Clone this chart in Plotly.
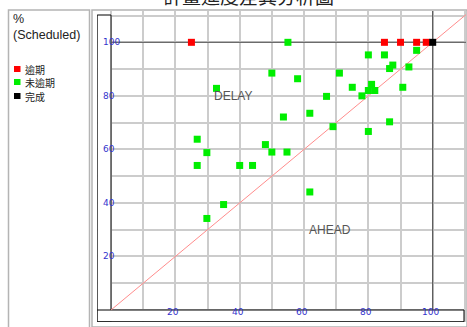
import plotly.graph_objects as go

# ---------------- data ----------------
title_text = "計畫進度差異分析圖"
y_axis_title = ["%", "(Scheduled)"]
legend_labels = ["逾期", "未逾期", "完成"]
legend_colors = ["#ff0000", "#00ee00", "#000000"]

late_x = [25, 85, 90, 95, 98]
late_y = [100, 100, 100, 100, 100]

ontime_x = [55, 80, 85, 95, 50, 71, 58, 87.6, 86.6, 92.6, 32.8, 75, 81, 90.7, 80, 82, 78, 67,
            53.6, 61.8, 69, 80, 86.6, 26.8, 29.8, 26.8, 40, 44, 48, 50, 54.7, 61.8, 35, 29.8]
ontime_y = [100, 95.3, 95.3, 97, 88.5, 88.5, 86.4, 91.5, 90.2, 90.8, 82.8, 83.2, 84.3, 83.2, 82, 82, 80, 79.8,
            72.1, 73.5, 68.5, 66.7, 70.3, 63.8, 58.8, 54, 54, 54, 61.8, 59, 59, 44.1, 39.4, 34.2]

done_x = [100]
done_y = [100]

diag = [0, 115]
tick_vals = [20, 40, 60, 80, 100]
tick_text = ["20", "40", "60", "80", "100"]
region_labels = ["DELAY", "AHEAD"]
region_x = [38, 68]
region_y = [80, 30]

# ---------------- geometry helpers ----------------
W, H = 467, 327
ML, MR, MT, MB = 97, 1, 11, 5
PW, PH = W - ML - MR, H - MT - MB
XR = [-4.35, 110.35]
YR = [-4.48, 111.7]


def px(xp):
    return (xp - ML) / PW


def py(yp):
    return (H - MB - yp) / PH


def dx(xp):
    return XR[0] + (xp - ML) / PW * (XR[1] - XR[0])


def dy(yp):
    return YR[0] + (H - MB - yp) / PH * (YR[1] - YR[0])


fig = go.Figure()

fig.add_trace(go.Scatter(x=diag, y=diag, mode="lines",
                         line=dict(color="#ff8c8c", width=1), hoverinfo="skip"))
fig.add_trace(go.Scatter(x=ontime_x, y=ontime_y, mode="markers", name=legend_labels[1],
                         marker=dict(symbol="square", size=7, color=legend_colors[1], line=dict(width=0))))
fig.add_trace(go.Scatter(x=late_x, y=late_y, mode="markers", name=legend_labels[0],
                         marker=dict(symbol="square", size=7, color=legend_colors[0], line=dict(width=0))))
fig.add_trace(go.Scatter(x=done_x, y=done_y, mode="markers", name=legend_labels[2],
                         marker=dict(symbol="square", size=7, color=legend_colors[2], line=dict(width=0))))

shapes = []
# axis bands (white boxes with black borders)
shapes.append(dict(type="rect", xref="x", yref="y", x0=XR[0] + 0.05, x1=0, y0=YR[0] + 0.1, y1=dy(15),
                   fillcolor="white", line=dict(color="black", width=1), layer="between"))
shapes.append(dict(type="rect", xref="x", yref="y", x0=XR[0] + 0.05, x1=dx(464), y0=YR[0] + 0.1, y1=0,
                   fillcolor="white", line=dict(color="black", width=1), layer="between"))
# dark reference lines at 100
shapes.append(dict(type="line", xref="x", yref="y", x0=0, x1=XR[1], y0=100, y1=100,
                   line=dict(color="#555555", width=1), layer="between"))
shapes.append(dict(type="line", xref="x", yref="y", x0=100, x1=100, y0=0, y1=YR[1],
                   line=dict(color="#444444", width=1), layer="between"))
# panels
shapes.append(dict(type="rect", xref="paper", yref="paper", x0=px(92), x1=px(467), y0=py(327), y1=py(10),
                   line=dict(color="#b4b4b4", width=1.5), fillcolor="rgba(0,0,0,0)"))
shapes.append(dict(type="rect", xref="paper", yref="paper", x0=px(8.5), x1=px(89.5), y0=py(328), y1=py(10),
                   line=dict(color="#b4b4b4", width=1.5), fillcolor="rgba(0,0,0,0)"))

annotations = []
# legend
leg_y = [69, 82, 96]
for lab, col, yy in zip(legend_labels, legend_colors, leg_y):
    shapes.append(dict(type="rect", xref="paper", yref="paper", x0=px(14), x1=px(20.5),
                       y0=py(yy + 3), y1=py(yy - 3), fillcolor=col, line=dict(width=0)))
    annotations.append(dict(text=lab, xref="paper", yref="paper", x=px(22.5), y=py(yy), xanchor="left",
                            yanchor="middle", showarrow=False,
                            font=dict(family="Noto Sans CJK TC", size=10, color="#222222")))
annotations.append(dict(text=y_axis_title[0], xref="paper", yref="paper", x=px(11), y=py(19),
                        xanchor="left", yanchor="middle", showarrow=False,
                        font=dict(family="Liberation Sans", size=12.5, color="#222222")))
annotations.append(dict(text=y_axis_title[1], xref="paper", yref="paper", x=px(11), y=py(35),
                        xanchor="left", yanchor="middle", showarrow=False,
                        font=dict(family="Liberation Sans", size=12.5, color="#222222")))
# title (mostly cut off at top)
annotations.append(dict(text=title_text, xref="paper", yref="paper", x=px(248), y=py(-5),
                        xanchor="center", yanchor="middle", showarrow=False,
                        font=dict(family="Noto Sans CJK TC", size=19, color="#222222")))
# tick labels
for v, t in zip(tick_vals, tick_text):
    annotations.append(dict(text=t, xref="x", yref="y", x=dx(100.5), y=v, xanchor="left", yanchor="middle",
                            showarrow=False, font=dict(family="DejaVu Sans", size=9, color="#3333cc")))
    annotations.append(dict(text=t, xref="x", yref="y", x=v, y=dy(311.5), xanchor="center", yanchor="middle",
                            xshift=-2, showarrow=False,
                            font=dict(family="DejaVu Sans", size=9, color="#3333cc")))
# region labels
for lab, xx, yy in zip(region_labels, region_x, region_y):
    annotations.append(dict(text=lab, xref="x", yref="y", x=xx, y=yy, xanchor="center", yanchor="middle",
                            showarrow=False, font=dict(family="Liberation Sans", size=12, color="#555555")))

fig.update_layout(
    width=W, height=H, margin=dict(l=ML, r=MR, t=MT, b=MB),
    paper_bgcolor="white", plot_bgcolor="white", showlegend=False,
    shapes=shapes, annotations=annotations,
    xaxis=dict(range=XR, dtick=10, tick0=0, showgrid=True, gridcolor="#cccccc", gridwidth=1.5,
               showticklabels=False, zeroline=False, showline=False, ticks=""),
    yaxis=dict(range=YR, dtick=10, tick0=0, showgrid=True, gridcolor="#cccccc", gridwidth=1.5,
               showticklabels=False, zeroline=False, showline=False, ticks=""),
)

fig.write_html("out.html", config={"displayModeBar": False},
               post_script="document.body.style.margin='0px';document.body.style.overflow='hidden';")
